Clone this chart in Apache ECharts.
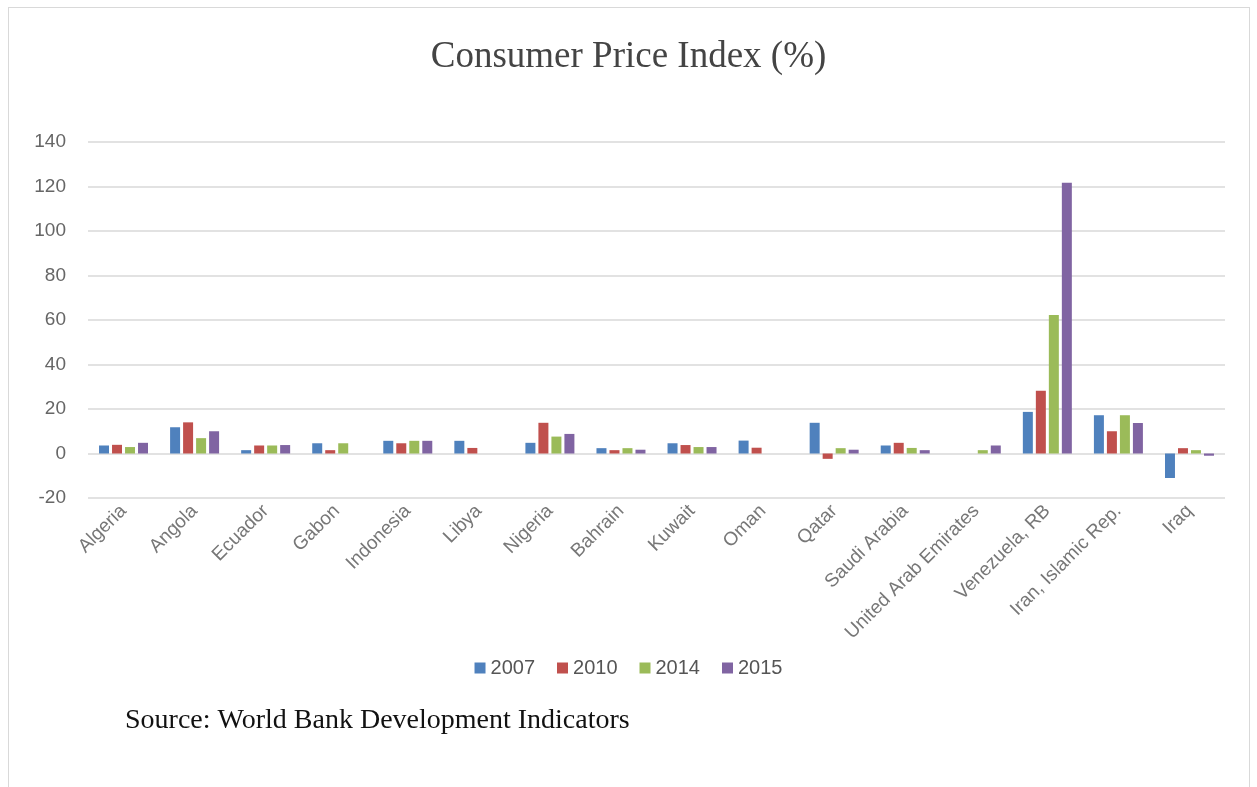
<!DOCTYPE html>
<html><head><meta charset="utf-8">
<script src="https://cdn.jsdelivr.net/npm/echarts@6/dist/echarts.min.js"></script>
<style>
html,body{margin:0;padding:0;background:#fff;}
#frame{position:absolute;left:8px;top:7px;width:1242px;height:790px;border:1px solid #d9d9d9;box-sizing:border-box;}
#c{position:absolute;left:0;top:0;width:1257px;height:787px;}
</style></head>
<body>
<div id="frame"></div>
<div id="c"></div>
<script>
const categories = ["Algeria","Angola","Ecuador","Gabon","Indonesia","Libya","Nigeria","Bahrain","Kuwait","Oman","Qatar","Saudi Arabia","United Arab Emirates","Venezuela, RB","Iran, Islamic Rep.","Iraq"];
const seriesNames = ["2007","2010","2014","2015"];
const v2007 = [3.6, 11.8, 1.5, 4.6, 5.7, 5.7, 4.8, 2.4, 4.6, 5.8, 13.8, 3.6, null, 18.7, 17.2, -11.0];
const v2010 = [3.9, 14.0, 3.6, 1.5, 4.6, 2.5, 13.8, 1.5, 3.8, 2.6, -2.4, 4.8, null, 28.2, 10.0, 2.4];
const v2014 = [2.9, 6.9, 3.6, 4.6, 5.7, null, 7.6, 2.4, 2.9, null, 2.4, 2.5, 1.5, 62.2, 17.2, 1.5];
const v2015 = [4.8, 10.0, 3.8, null, 5.7, null, 8.8, 1.7, 2.9, null, 1.7, 1.5, 3.6, 121.7, 13.7, -1.0];
const yTicks = [-20, 0, 20, 40, 60, 80, 100, 120, 140];
const colors = ["#4F81BD","#C0504D","#9BBB59","#8064A2"];
const values = [v2007, v2010, v2014, v2015];

const chart = echarts.init(document.getElementById('c'));
chart.setOption({
  animation:false,
  color: colors,
  title:{
    text:"Consumer Price Index (%)", left:'center', top:34,
    textStyle:{fontFamily:"Liberation Serif", fontSize:37, fontWeight:'normal', color:'#444'}
  },
  graphic:[{
    type:'text', left:125, top:707,
    style:{text:"Source: World Bank Development Indicators", fontFamily:"Liberation Serif", fontSize:28, fill:'#111'}
  }],
  legend:{
    data: seriesNames, bottom: 104, left:'center', itemWidth:11, itemHeight:11, itemGap:22,
    icon:'rect',
    textStyle:{fontFamily:"Liberation Sans Narrow, Liberation Sans", fontSize:20, color:'#555'}
  },
  grid:{left:88, right:32, top:142, bottom:289, containLabel:false},
  xAxis:{
    type:'category', data: categories,
    axisLine:{show:false}, axisTick:{show:false},
    axisLabel:{rotate:45, interval:0, color:'#777', fontSize:19, fontFamily:"Liberation Sans Narrow, Liberation Sans", margin:10}
  },
  yAxis:{
    type:'value', min:yTicks[0], max:yTicks[yTicks.length-1], interval:20,
    axisLine:{show:false}, axisTick:{show:false},
    axisLabel:{color:'#666', fontSize:19, fontFamily:"Liberation Sans Narrow, Liberation Sans", margin:22},
    splitLine:{lineStyle:{color:'#d9d9d9', width:1.5}}
  },
  series: seriesNames.map((n,i)=>({
    name:n, type:'bar', data: values[i], barWidth:10, barGap:'30%', barCategoryGap:'30%',
    itemStyle:{color:colors[i]}
  }))
});
</script>
</body></html>
